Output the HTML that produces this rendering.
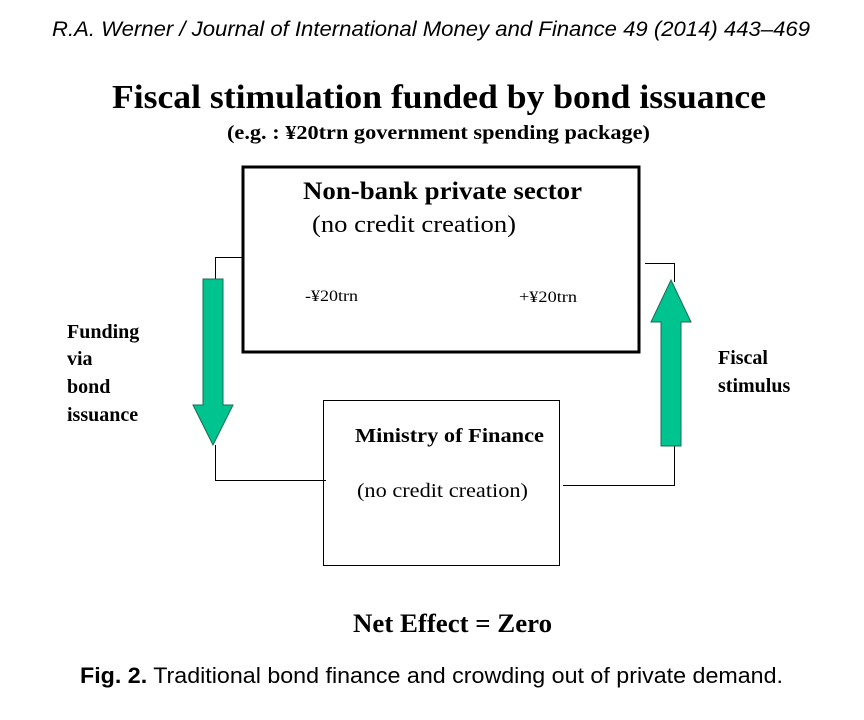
<!DOCTYPE html>
<html><head><meta charset="utf-8"><style>html,body{margin:0;padding:0;background:#fff;width:864px;height:720px;overflow:hidden}</style></head>
<body>
<svg width="864" height="720" viewBox="0 0 864 720" xmlns="http://www.w3.org/2000/svg">
<rect width="864" height="720" fill="#fff"/>
<g font-family="'Liberation Serif', serif" fill="#000">
<text x="52" y="36" font-family="'Liberation Sans', sans-serif" font-style="italic" font-size="21" textLength="758" lengthAdjust="spacingAndGlyphs">R.A. Werner / Journal of International Money and Finance 49 (2014) 443–469</text>
<text x="112" y="108" font-weight="bold" font-size="34" textLength="654" lengthAdjust="spacingAndGlyphs">Fiscal stimulation funded by bond issuance</text>
<text x="227" y="139" font-weight="bold" font-size="20" textLength="423" lengthAdjust="spacingAndGlyphs">(e.g. : ¥20trn government spending package)</text>
<rect x="243" y="167" width="396" height="185" fill="none" stroke="#000" stroke-width="3"/>
<text x="303" y="199" font-weight="bold" font-size="25" textLength="279" lengthAdjust="spacingAndGlyphs">Non-bank private sector</text>
<text x="312" y="232" font-size="24" textLength="204" lengthAdjust="spacingAndGlyphs">(no credit creation)</text>
<text x="305" y="301" font-size="16" textLength="53" lengthAdjust="spacingAndGlyphs">-¥20trn</text>
<text x="519" y="302" font-size="16" textLength="58" lengthAdjust="spacingAndGlyphs">+¥20trn</text>
<rect x="323.5" y="400.5" width="236" height="165" fill="none" stroke="#000" stroke-width="1"/>
<text x="355" y="442" font-weight="bold" font-size="20" textLength="189" lengthAdjust="spacingAndGlyphs">Ministry of Finance</text>
<text x="357" y="497" font-size="20" textLength="171" lengthAdjust="spacingAndGlyphs">(no credit creation)</text>
<polyline points="242,257.5 215.5,257.5 215.5,279" fill="none" stroke="#000" stroke-width="1"/>
<polyline points="215.5,445 215.5,480.5 326,480.5" fill="none" stroke="#000" stroke-width="1"/>
<polyline points="645,263.5 674.5,263.5 674.5,282" fill="none" stroke="#000" stroke-width="1"/>
<polyline points="674.5,446 674.5,485.5 563,485.5" fill="none" stroke="#000" stroke-width="1"/>
<polygon points="203,279 223,279 223,405 233,405 213,445 193,405 203,405" fill="#00c48f" stroke="#1a6b50" stroke-width="1"/>
<polygon points="671,280 691,322 681,322 681,446 661,446 661,322 651,322" fill="#00c48f" stroke="#1a6b50" stroke-width="1"/>
<g font-weight="bold" font-size="20">
<text x="67" y="338">Funding</text>
<text x="67" y="365">via</text>
<text x="67" y="393">bond</text>
<text x="67" y="421">issuance</text>
<text x="718" y="364">Fiscal</text>
<text x="718" y="392">stimulus</text>
</g>
<text x="353" y="632" font-weight="bold" font-size="26" textLength="199" lengthAdjust="spacingAndGlyphs">Net Effect = Zero</text>
<text x="80" y="683" font-family="'Liberation Sans', sans-serif" font-size="22" textLength="703" lengthAdjust="spacingAndGlyphs"><tspan font-weight="bold">Fig. 2.</tspan> Traditional bond finance and crowding out of private demand.</text>
</g>
</svg>
</body></html>
